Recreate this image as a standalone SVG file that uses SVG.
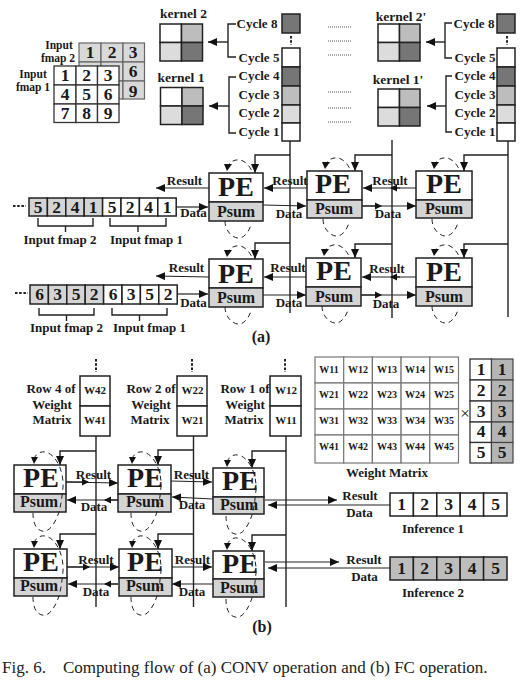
<svg xmlns="http://www.w3.org/2000/svg" width="522" height="691" viewBox="0 0 522 691">
<style>
text{font-family:"Liberation Serif","Times New Roman",serif;font-weight:bold;fill:#1a1a1a;text-anchor:middle}
.c{fill:#fff;stroke:#333;stroke-width:1.3}
.t{fill:#fff;stroke:#222;stroke-width:1.5}
.g{fill:#d4d4d4;stroke:#222;stroke-width:1.5}
.gm{fill:#bdbdbd;stroke:#222;stroke-width:1.5}
.gl{fill:#dcdcdc;stroke:#222;stroke-width:1.5}
.gd{fill:#767676;stroke:#222;stroke-width:1.5}
.gs{fill:#d9d9d9;stroke:#666;stroke-width:1.2}
.w{fill:#fff;stroke:#777;stroke-width:1.2}
.v{fill:#b5b5b5;stroke:#444;stroke-width:1.2}
.n{font-size:17.500px}
.l{font-size:13px}
.s{font-size:11.500px}
.k{font-size:13.500px}
.cy{font-size:13px}
.pe{font-size:28px}
.ps{font-size:16px}
.wt{font-size:11px}
.wm{font-size:10px}
.ln{fill:none;stroke:#222;stroke-width:1.2}
.th{fill:none;stroke:#222;stroke-width:1.4}
.ar{marker-end:url(#h)}
.dl{fill:none;stroke:#222;stroke-width:1;stroke-dasharray:5 4}
.dt{fill:none;stroke:#555;stroke-width:1;stroke-dasharray:1 1}
.vd{fill:none;stroke:#222;stroke-width:2;stroke-dasharray:2.500 1.700}
</style>
<defs>
<marker id="h" markerUnits="userSpaceOnUse" markerWidth="10" markerHeight="8" refX="9" refY="4" orient="auto"><path d="M0 0L9 4L0 8z" fill="#111"/></marker>
<marker id="hs" markerUnits="userSpaceOnUse" markerWidth="8" markerHeight="8" refX="6" refY="4" orient="auto"><path d="M0 0.500L7 4L0 7.500z" fill="#111"/></marker>
<g id="loopA"><path class="dl" d="M18 -5C20 -12 28 -15 34 -12C38 -10 41 -6 43 -2"/><path d="M15 -9L23 -9L18 -2z" fill="#111"/><path class="dl" d="M16 48C16 58 24 66 31 65C36 64 40 58 42 52"/></g>
<g id="loopB"><path class="dl" d="M20 -6C22 -12 28 -15 34 -12C42 -9 50 6 49 22C48 32 47 40 45 47C42 56 36 68 28 66C20 64 19 54 19 48"/><path d="M17 -8L24 -8L20 -1z" fill="#111"/></g>
</defs>

<g id="fmap2">
<rect class="gs" x="79" y="43" width="22" height="19"/><rect class="gs" x="101" y="43" width="22" height="19"/><rect class="gs" x="123" y="43" width="21.500" height="19"/>
<rect class="gs" x="79" y="62" width="22" height="19"/><rect class="gs" x="101" y="62" width="22" height="19"/><rect class="gs" x="123" y="62" width="21.500" height="19"/>
<rect class="gs" x="79" y="81" width="22" height="18"/><rect class="gs" x="101" y="81" width="22" height="18"/><rect class="gs" x="123" y="81" width="21.500" height="18"/>
<text class="n" x="90" y="58">1</text><text class="n" x="112" y="58">2</text><text class="n" x="133" y="58">3</text>
<text class="n" x="133" y="77">6</text><text class="n" x="133" y="97">9</text>
<text class="s" x="59" y="49">Input</text><text class="s" x="58" y="62">fmap 2</text>
</g>
<g id="fmap1">
<rect class="c" x="54" y="66" width="22" height="19"/><rect class="c" x="76" y="66" width="21.500" height="19"/><rect class="c" x="97.500" y="66" width="21.500" height="19"/>
<rect class="c" x="54" y="85" width="22" height="19"/><rect class="c" x="76" y="85" width="21.500" height="19"/><rect class="c" x="97.500" y="85" width="21.500" height="19"/>
<rect class="c" x="54" y="104" width="22" height="18.500"/><rect class="c" x="76" y="104" width="21.500" height="18.500"/><rect class="c" x="97.500" y="104" width="21.500" height="18.500"/>
<text class="n" x="65" y="81">1</text><text class="n" x="86.500" y="81">2</text><text class="n" x="108" y="81">3</text>
<text class="n" x="65" y="100">4</text><text class="n" x="86.500" y="100">5</text><text class="n" x="108" y="100">6</text>
<text class="n" x="65" y="119">7</text><text class="n" x="86.500" y="119">8</text><text class="n" x="108" y="119">9</text>
<text class="s" x="33" y="78">Input</text><text class="s" x="33" y="91">fmap 1</text>
</g>

<g id="kernel2"><rect class="t" x="160" y="24" width="21.500" height="18.500"/><rect class="gm" x="181.500" y="24" width="21" height="18.500"/><rect class="gl" x="160" y="42.500" width="21.500" height="18.500"/><rect class="gd" x="181.500" y="42.500" width="21" height="18.500"/><text class="k" x="183.500" y="18">kernel 2</text></g>
<g id="kernel1"><rect class="t" x="160.500" y="87.500" width="21.500" height="18.500"/><rect class="gm" x="182" y="87.500" width="21" height="18.500"/><rect class="gl" x="160.500" y="106" width="21.500" height="18.500"/><rect class="gd" x="182" y="106" width="21" height="18.500"/><text class="k" x="181" y="82">kernel 1</text></g>
<g id="kernel2p"><rect class="t" x="378" y="24" width="21.500" height="18.500"/><rect class="gm" x="399.500" y="24" width="20.500" height="18.500"/><rect class="gl" x="378" y="42.500" width="21.500" height="18.500"/><rect class="gd" x="399.500" y="42.500" width="20.500" height="18.500"/><text class="k" x="401" y="21">kernel 2'</text></g>
<g id="kernel1p"><rect class="t" x="378" y="89" width="21.500" height="18.500"/><rect class="gm" x="399.500" y="89" width="20.500" height="18.500"/><rect class="gl" x="378" y="107.500" width="21.500" height="18.500"/><rect class="gd" x="399.500" y="107.500" width="20.500" height="18.500"/><text class="k" x="398" y="84">kernel 1'</text></g>

<g id="cycles1">
<rect class="gd" x="282" y="14" width="18" height="19"/><rect class="t" x="282" y="48" width="18" height="19"/><rect class="gd" x="282" y="67" width="18" height="19"/><rect class="gm" x="282" y="86" width="18" height="19"/><rect class="gl" x="282" y="105" width="18" height="18"/><rect class="t" x="282" y="123" width="18" height="18"/>
<text class="cy" x="257" y="28">Cycle 8</text><text class="cy" x="259" y="62">Cycle 5</text><text class="cy" x="259" y="80">Cycle 4</text><text class="cy" x="259" y="99">Cycle 3</text><text class="cy" x="259" y="117">Cycle 2</text><text class="cy" x="259" y="136">Cycle 1</text>
</g>
<g id="cycles2">
<rect class="gd" x="497" y="14" width="18" height="19"/><rect class="t" x="497" y="48" width="18" height="19"/><rect class="gd" x="497" y="67" width="18" height="19"/><rect class="gm" x="497" y="86" width="18" height="19"/><rect class="gl" x="497" y="105" width="18" height="18"/><rect class="t" x="497" y="123" width="18" height="18"/>
<text class="cy" x="474" y="28">Cycle 8</text><text class="cy" x="475" y="62">Cycle 5</text><text class="cy" x="475" y="80">Cycle 4</text><text class="cy" x="475" y="99">Cycle 3</text><text class="cy" x="475" y="117">Cycle 2</text><text class="cy" x="475" y="136">Cycle 1</text>
</g>

<g id="tape1">
<rect class="g" x="29" y="198" width="18.400" height="18"/><rect class="g" x="47.400" y="198" width="18.400" height="18"/><rect class="g" x="65.800" y="198" width="18.400" height="18"/><rect class="g" x="84.200" y="198" width="18.400" height="18"/><rect class="t" x="102.600" y="198" width="18.400" height="18"/><rect class="t" x="121" y="198" width="18.400" height="18"/><rect class="t" x="139.400" y="198" width="18.400" height="18"/><rect class="t" x="157.800" y="198" width="18.400" height="18"/>
<text class="n" x="38" y="213">5</text><text class="n" x="56.500" y="213">2</text><text class="n" x="75" y="213">4</text><text class="n" x="93" y="213">1</text><text class="n" x="112" y="213">5</text><text class="n" x="130" y="213">2</text><text class="n" x="148.500" y="213">4</text><text class="n" x="167" y="213">1</text>
<text class="l" x="60" y="244">Input fmap 2</text><text class="l" x="146.500" y="244">Input fmap 1</text>
</g>
<g id="tape2">
<rect class="g" x="30" y="285" width="18.400" height="19"/><rect class="g" x="48.400" y="285" width="18.400" height="19"/><rect class="g" x="66.800" y="285" width="18.400" height="19"/><rect class="g" x="85.200" y="285" width="18.400" height="19"/><rect class="t" x="103.600" y="285" width="18.400" height="19"/><rect class="t" x="122" y="285" width="18.400" height="19"/><rect class="t" x="140.400" y="285" width="18.400" height="19"/><rect class="t" x="158.800" y="285" width="18.400" height="19"/>
<text class="n" x="39.500" y="300">6</text><text class="n" x="57.500" y="300">3</text><text class="n" x="76" y="300">5</text><text class="n" x="94" y="300">2</text><text class="n" x="113" y="300">6</text><text class="n" x="131" y="300">3</text><text class="n" x="149.500" y="300">5</text><text class="n" x="168" y="300">2</text>
<text class="l" x="66.500" y="332">Input fmap 2</text><text class="l" x="149.500" y="332">Input fmap 1</text>
</g>

<g id="connectors">
<path class="th" d="M236 24H228V57H236"/><path class="th ar" d="M228 42H208"/>
<path class="th" d="M236 77H229V133H236"/><path class="th ar" d="M229 106H209"/>
<path class="th" d="M452 23H445V58H452"/><path class="th ar" d="M445 42H426"/>
<path class="th" d="M452 76H446V132H452"/><path class="th ar" d="M446 106H427"/>
<path class="vd" d="M291 36V45M507 36V45M13 206H26M15 293H28M96 359V372M192 359V372M285 359V372"/>
<path class="dt" d="M328 27H352M328 41H352M328 55H352M328 92H352M328 108H352M328 122H352"/>
<path class="th" d="M290 141V313M392 140V318M508 141V317M96 436V607M193.500 436V607M286 436V607"/>
<path class="th ar" d="M290 155H255V173"/><path class="th ar" d="M392 155H355V171"/><path class="th ar" d="M508 155H464V171"/>
<path class="th ar" d="M290 243H255V259"/><path class="th ar" d="M392 244H355V258"/><path class="th ar" d="M508 244H464V258"/>
<path class="th" d="M38 218V226H93V218M65.500 226V232M110 218V226H166V218M138 226V232M39 308V315H94V308M66.500 315V321M112 308V315H167V308M139.500 315V321"/>
<path class="ln ar" d="M209 188H156"/><path class="ln ar" d="M176 207H208"/><path class="ln ar" d="M209 277L156 276"/><path class="ln ar" d="M177 294H208"/>
<path class="ln ar" d="M307 188H264"/><path class="ln ar" d="M263 205L306 206"/><path class="ln ar" d="M306 277H264"/><path class="ln ar" d="M262 295H306"/>
<path class="ln ar" d="M416 188H363"/><path class="ln" d="M400 188H391" marker-end="url(#hs)"/><path class="ln ar" d="M362 206H416"/><path class="ln" d="M362 206H381" marker-end="url(#hs)"/>
<path class="ln ar" d="M416 277H362"/><path class="ln" d="M400 277H391" marker-end="url(#hs)"/><path class="ln ar" d="M361 295H416"/><path class="ln" d="M361 295H381" marker-end="url(#hs)"/>
<path class="th ar" d="M96 451H60V465"/><path class="th ar" d="M193.500 450H158V465"/><path class="th ar" d="M286 451H252V468"/>
<path class="th ar" d="M96 534H60V549"/><path class="th ar" d="M193.500 534H158V549"/><path class="th ar" d="M286 535H252V551"/>
<path class="ln ar" d="M66 482L118 483"/><path class="ln" d="M66 482H88" marker-end="url(#hs)"/><path class="ln ar" d="M118 500H67"/><path class="ln" d="M118 500H105" marker-end="url(#hs)"/>
<path class="ln ar" d="M171 481L212 482"/><path class="ln ar" d="M213 499L172 497"/>
<path class="ln ar" d="M67 567H119"/><path class="ln" d="M67 567H89" marker-end="url(#hs)"/><path class="ln ar" d="M118 584H68"/><path class="ln" d="M118 584H105" marker-end="url(#hs)"/>
<path class="ln ar" d="M172 567H212"/><path class="ln ar" d="M213 584H172"/>
<path class="ln ar" d="M265 500H337"/><path class="ln ar" d="M390 505H268"/><path class="ln ar" d="M265 562H339"/><path class="ln ar" d="M390 568H268"/>
<use href="#loopA" x="209" y="173"/><use href="#loopA" x="307" y="171"/><use href="#loopA" x="416" y="171"/>
<use href="#loopA" x="209" y="259"/><use href="#loopA" x="306" y="258"/><use href="#loopA" x="416" y="258"/>
</g>

<g id="pe-a11"><rect class="t" x="209" y="173" width="54" height="29"/><rect class="g" x="209" y="202" width="54" height="19"/><text class="pe" x="236" y="196">PE</text><text class="ps" x="236" y="217">Psum</text></g>
<g id="pe-a12"><rect class="t" x="307" y="171" width="55" height="29"/><rect class="g" x="307" y="200" width="55" height="18"/><text class="pe" x="333" y="193">PE</text><text class="ps" x="334" y="214">Psum</text></g>
<g id="pe-a13"><rect class="t" x="416" y="171" width="56" height="29"/><rect class="g" x="416" y="200" width="56" height="18"/><text class="pe" x="444" y="193">PE</text><text class="ps" x="444" y="214">Psum</text></g>
<g id="pe-a21"><rect class="t" x="209" y="259" width="54" height="29"/><rect class="g" x="209" y="288" width="54" height="19"/><text class="pe" x="236" y="283">PE</text><text class="ps" x="236" y="303">Psum</text></g>
<g id="pe-a22"><rect class="t" x="306" y="258" width="55" height="29"/><rect class="g" x="306" y="287" width="55" height="19"/><text class="pe" x="334" y="280">PE</text><text class="ps" x="334" y="302">Psum</text></g>
<g id="pe-a23"><rect class="t" x="416" y="258" width="56" height="29"/><rect class="g" x="416" y="287" width="56" height="19"/><text class="pe" x="444" y="281">PE</text><text class="ps" x="444" y="302">Psum</text></g>

<g id="labels-a">
<text class="l" x="184.500" y="185">Result</text><text class="l" x="193.500" y="217">Data</text>
<text class="l" x="186.500" y="272">Result</text><text class="l" x="193.500" y="307">Data</text>
<text class="l" x="290" y="185">Result</text><text class="l" x="289" y="218">Data</text>
<text class="l" x="390" y="185">Result</text><text class="l" x="388" y="218">Data</text>
<text class="l" x="288" y="272">Result</text><text class="l" x="289" y="307">Data</text>
<text class="l" x="387" y="273">Result</text><text class="l" x="386" y="308">Data</text>
<text x="261" y="342" font-size="16">(a)</text>
</g>

<g id="row4"><rect class="t" x="80" y="376" width="30" height="30"/><rect class="t" x="80" y="406" width="30" height="30"/><text class="wt" x="95" y="394">W42</text><text class="wt" x="95" y="424">W41</text><text class="l" x="51" y="393">Row 4 of</text><text class="l" x="52" y="409">Weight</text><text class="l" x="52" y="424">Matrix</text></g>
<g id="row2"><rect class="t" x="177" y="376" width="30" height="30"/><rect class="t" x="177" y="406" width="30" height="30"/><text class="wt" x="192.500" y="394">W22</text><text class="wt" x="192.500" y="424">W21</text><text class="l" x="151" y="393">Row 2 of</text><text class="l" x="151" y="409">Weight</text><text class="l" x="150" y="424">Matrix</text></g>
<g id="row1"><rect class="t" x="270" y="376" width="31" height="30"/><rect class="t" x="270" y="406" width="31" height="30"/><text class="wt" x="286" y="394">W12</text><text class="wt" x="286" y="424">W11</text><text class="l" x="245" y="393">Row 1 of</text><text class="l" x="245" y="409">Weight</text><text class="l" x="244" y="424">Matrix</text></g>

<g id="weight-matrix">
<rect class="w" x="315" y="357" width="28.700" height="26"/><rect class="w" x="343.700" y="357" width="28.700" height="26"/><rect class="w" x="372.400" y="357" width="28.700" height="26"/><rect class="w" x="401.100" y="357" width="28.700" height="26"/><rect class="w" x="429.800" y="357" width="28.700" height="26"/>
<rect class="w" x="315" y="383" width="28.700" height="26"/><rect class="w" x="343.700" y="383" width="28.700" height="26"/><rect class="w" x="372.400" y="383" width="28.700" height="26"/><rect class="w" x="401.100" y="383" width="28.700" height="26"/><rect class="w" x="429.800" y="383" width="28.700" height="26"/>
<rect class="w" x="315" y="409" width="28.700" height="26"/><rect class="w" x="343.700" y="409" width="28.700" height="26"/><rect class="w" x="372.400" y="409" width="28.700" height="26"/><rect class="w" x="401.100" y="409" width="28.700" height="26"/><rect class="w" x="429.800" y="409" width="28.700" height="26"/>
<rect class="w" x="315" y="435" width="28.700" height="28"/><rect class="w" x="343.700" y="435" width="28.700" height="28"/><rect class="w" x="372.400" y="435" width="28.700" height="28"/><rect class="w" x="401.100" y="435" width="28.700" height="28"/><rect class="w" x="429.800" y="435" width="28.700" height="28"/>
<text class="wm" x="329" y="373">W11</text><text class="wm" x="358" y="373">W12</text><text class="wm" x="387" y="373">W13</text><text class="wm" x="415" y="373">W14</text><text class="wm" x="444" y="373">W15</text>
<text class="wm" x="329" y="398">W21</text><text class="wm" x="358" y="398">W22</text><text class="wm" x="387" y="398">W23</text><text class="wm" x="415" y="398">W24</text><text class="wm" x="444" y="398">W25</text>
<text class="wm" x="329" y="424">W31</text><text class="wm" x="358" y="424">W32</text><text class="wm" x="387" y="424">W33</text><text class="wm" x="415" y="424">W34</text><text class="wm" x="444" y="424">W35</text>
<text class="wm" x="329" y="450">W41</text><text class="wm" x="358" y="450">W42</text><text class="wm" x="387" y="450">W43</text><text class="wm" x="415" y="450">W44</text><text class="wm" x="444" y="450">W45</text>
<text class="l" x="387" y="477">Weight Matrix</text>
<text x="465" y="419" font-size="17" style="font-weight:normal">×</text>
</g>
<g id="vector">
<rect class="c" x="470" y="359" width="21.500" height="21"/><rect class="c" x="470" y="380" width="21.500" height="21"/><rect class="c" x="470" y="401" width="21.500" height="21"/><rect class="c" x="470" y="422" width="21.500" height="20.500"/><rect class="c" x="470" y="442.500" width="21.500" height="20.500"/>
<rect class="v" x="491.500" y="359" width="21.500" height="21"/><rect class="v" x="491.500" y="380" width="21.500" height="21"/><rect class="v" x="491.500" y="401" width="21.500" height="21"/><rect class="v" x="491.500" y="422" width="21.500" height="20.500"/><rect class="v" x="491.500" y="442.500" width="21.500" height="20.500"/>
<text class="n" x="481" y="375">1</text><text class="n" x="502" y="375">1</text><text class="n" x="481" y="396">2</text><text class="n" x="502" y="396">2</text><text class="n" x="481" y="417">3</text><text class="n" x="502" y="417">3</text><text class="n" x="481" y="437">4</text><text class="n" x="502" y="437">4</text><text class="n" x="481" y="458">5</text><text class="n" x="502" y="458">5</text>
</g>

<g id="pe-b11"><rect class="t" x="14" y="465" width="52" height="29"/><rect class="g" x="14" y="494" width="52" height="18"/><text class="pe" x="41" y="487">PE</text><text class="ps" x="39" y="507">Psum</text></g>
<g id="pe-b12"><rect class="t" x="118" y="465" width="53" height="29"/><rect class="g" x="118" y="494" width="53" height="18"/><text class="pe" x="145" y="487">PE</text><text class="ps" x="145" y="507">Psum</text></g>
<g id="pe-b13"><rect class="t" x="213" y="468" width="51" height="29"/><rect class="g" x="213" y="497" width="51" height="17"/><text class="pe" x="240" y="490">PE</text><text class="ps" x="239" y="510">Psum</text></g>
<g id="pe-b21"><rect class="t" x="14" y="549" width="53" height="29"/><rect class="g" x="14" y="578" width="53" height="18"/><text class="pe" x="41" y="571">PE</text><text class="ps" x="39" y="591">Psum</text></g>
<g id="pe-b22"><rect class="t" x="119" y="549" width="53" height="29"/><rect class="g" x="119" y="578" width="53" height="18"/><text class="pe" x="145" y="571">PE</text><text class="ps" x="145" y="591">Psum</text></g>
<g id="pe-b23"><rect class="t" x="213" y="551" width="51" height="28"/><rect class="g" x="213" y="579" width="51" height="18"/><text class="pe" x="240" y="573">PE</text><text class="ps" x="239" y="593">Psum</text></g>
<g id="loops-b"><use href="#loopB" x="14" y="465"/><use href="#loopB" x="112" y="465"/><use href="#loopB" x="207" y="468"/><use href="#loopB" x="14" y="549"/><use href="#loopB" x="112" y="549"/><use href="#loopB" x="207" y="551"/></g>

<g id="labels-b">
<text class="l" x="93.500" y="479">Result</text><text class="l" x="94" y="511">Data</text><text class="l" x="191.500" y="479">Result</text><text class="l" x="192" y="509">Data</text>
<text class="l" x="96" y="564">Result</text><text class="l" x="96" y="596">Data</text><text class="l" x="192.500" y="564">Result</text><text class="l" x="192" y="596">Data</text>
<text class="l" x="360" y="500">Result</text><text class="l" x="359.500" y="517">Data</text><text class="l" x="364" y="564">Result</text><text class="l" x="364.500" y="581">Data</text>
</g>

<g id="inference1">
<rect class="t" x="390" y="493" width="23.400" height="23"/><rect class="t" x="413.400" y="493" width="23.400" height="23"/><rect class="t" x="436.800" y="493" width="23.400" height="23"/><rect class="t" x="460.200" y="493" width="23.400" height="23"/><rect class="t" x="483.600" y="493" width="23.400" height="23"/>
<text class="n" x="401.500" y="510">1</text><text class="n" x="424.500" y="510">2</text><text class="n" x="448.500" y="510">3</text><text class="n" x="472" y="510">4</text><text class="n" x="495.500" y="510">5</text>
<text class="l" x="433" y="533">Inference 1</text>
</g>
<g id="inference2">
<rect class="gm" x="390" y="557" width="23.400" height="23"/><rect class="gm" x="413.400" y="557" width="23.400" height="23"/><rect class="gm" x="436.800" y="557" width="23.400" height="23"/><rect class="gm" x="460.200" y="557" width="23.400" height="23"/><rect class="gm" x="483.600" y="557" width="23.400" height="23"/>
<text class="n" x="401.500" y="574">1</text><text class="n" x="424.500" y="574">2</text><text class="n" x="448.500" y="574">3</text><text class="n" x="472" y="574">4</text><text class="n" x="495.500" y="574">5</text>
<text class="l" x="433" y="597">Inference 2</text>
</g>
<text x="262" y="632" font-size="16">(b)</text>
<text x="2" y="673" font-size="17" style="font-weight:normal;text-anchor:start;fill:#222">Fig. 6.<tspan x="63">Computing flow of (a) CONV operation and (b) FC operation.</tspan></text>
</svg>
